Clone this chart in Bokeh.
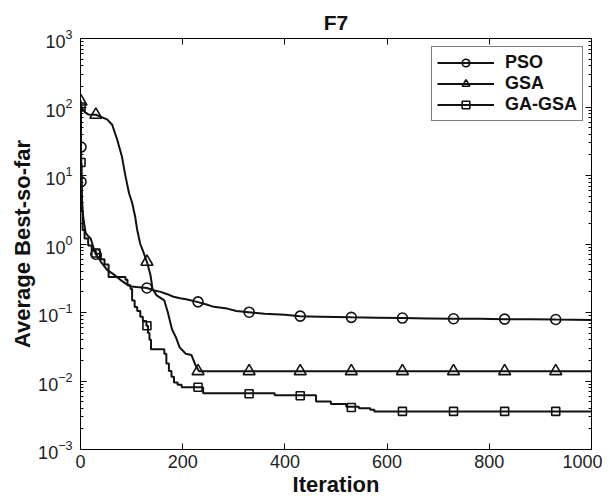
from bokeh.plotting import figure
from bokeh.models import (LogAxis, LinearAxis, Legend, LegendItem, FixedTicker,
                          LogTickFormatter)
from bokeh.embed import file_html
from bokeh.resources import INLINE

# ---------------- data ----------------
series_names = ["PSO", "GSA", "GA-GSA"]
title_text = "F7"

pso_x = [0, 1, 2, 3, 5, 8, 10, 15, 20, 26, 30, 40, 52, 65, 78, 90, 98, 110, 130, 145,
         157, 170, 182, 195, 209, 228, 245, 261, 287, 305, 329, 360, 400, 429, 470,
         500, 530, 580, 630, 680, 730, 780, 830, 880, 930, 1000]
pso_y = [90, 26, 8.1, 4.4, 2.6, 1.8, 1.45, 1.3, 1.2, 0.85, 0.71, 0.55, 0.42, 0.36,
         0.30, 0.26, 0.24, 0.235, 0.228, 0.21, 0.20, 0.185, 0.17, 0.162, 0.155, 0.143,
         0.132, 0.121, 0.114, 0.105, 0.101, 0.096, 0.093, 0.0885, 0.087, 0.086, 0.085,
         0.084, 0.083, 0.082, 0.081, 0.081, 0.080, 0.080, 0.079, 0.078]

gsa_x = [0, 2, 8, 15, 30, 52, 62, 72, 81, 88, 95, 101, 107, 111, 117, 122, 130, 137,
         141, 149, 164, 171, 179, 187, 194, 206, 217, 225, 232, 1000]
gsa_y = [125, 100, 85, 78, 77, 66, 55, 33, 19, 9.8, 5.5, 4.0, 2.5, 1.6, 1.0, 0.8,
         0.55, 0.35, 0.22, 0.178, 0.15, 0.10, 0.057, 0.043, 0.031, 0.025, 0.024,
         0.017, 0.0139, 0.0139]

gagsa_x = [0, 1, 2, 4, 8, 15, 22, 30, 40, 47, 55, 88, 92, 98, 101, 106, 111, 117, 122,
           129, 132, 135, 138, 164, 168, 173, 178, 183, 190, 198, 240, 380, 461, 490,
           520, 545, 567, 575, 1000]
gagsa_y = [100, 15, 3, 1.6, 1.2, 0.95, 0.8, 0.72, 0.6, 0.5, 0.33, 0.3, 0.25, 0.22,
           0.15, 0.12, 0.105, 0.087, 0.075, 0.064, 0.05, 0.04, 0.029, 0.025, 0.018,
           0.014, 0.0115, 0.0095, 0.0088, 0.0081, 0.0066, 0.0062, 0.005, 0.0046,
           0.0042, 0.004, 0.0038, 0.0036, 0.0036]

marker_x = [30, 130, 230, 330, 430, 530, 630, 730, 830, 930]
pso_mx = [1, 1] + marker_x
pso_my = [26, 8.1, 0.71, 0.228, 0.143, 0.101, 0.0885, 0.085, 0.083, 0.081, 0.080, 0.079]
gsa_mx = [1] + marker_x
gsa_my = [120, 77, 0.55, 0.0139, 0.0139, 0.0139, 0.0139, 0.0139, 0.0139, 0.0139, 0.0139]
gagsa_mx = [1, 1] + marker_x
gagsa_my = [100, 15.5, 0.74, 0.064, 0.0081, 0.0065, 0.0061, 0.0041, 0.0036, 0.0036,
            0.0036, 0.0036]

x_ticks = [0, 200, 400, 600, 800, 1000]
y_ticks = [1e-3, 1e-2, 1e-1, 1e0, 1e1, 1e2, 1e3]
y_minor = [m * t for t in y_ticks[:-1] for m in range(2, 10)]

# ---------------- figure ----------------
FONT = "Liberation Sans"
p = figure(width=602, height=499, y_axis_type="log", x_range=(0, 1000),
           y_range=(1e-3, 1e3), output_backend="svg", toolbar_location=None,
           min_border_left=80, min_border_right=11, min_border_top=38,
           min_border_bottom=50)
p.background_fill_color = "white"
p.border_fill_color = "white"
p.outline_line_color = "black"
p.outline_line_width = 1
p.grid.visible = False

p.title.text = title_text
p.title.align = "center"
p.title.text_font = FONT
p.title.text_font_style = "bold"
p.title.text_font_size = "21px"
p.title.text_color = "#111111"
p.title.standoff = 10

def style_axis(ax, labels=True):
    ax.axis_line_color = "black"
    ax.axis_line_width = 1
    ax.major_tick_in = 6
    ax.major_tick_out = 0
    ax.minor_tick_in = 3
    ax.minor_tick_out = 0
    ax.major_tick_line_color = "black"
    ax.minor_tick_line_color = "black"
    ax.major_label_text_font = FONT
    ax.major_label_text_color = "#222222"
    ax.axis_label_text_font = FONT
    ax.axis_label_text_font_style = "bold"
    ax.axis_label_text_font_size = "22px"
    ax.axis_label_text_color = "#111111"
    if labels:
        ax.major_label_text_font_size = "18px"
    else:
        ax.major_label_text_font_size = "1px"
        ax.major_label_text_alpha = 0
        ax.major_label_standoff = 0
        ax.axis_label_standoff = 0

xax = p.xaxis[0]
xax.ticker = FixedTicker(ticks=x_ticks)
style_axis(xax)
xax.minor_tick_line_color = None
xax.axis_label = "Iteration"
xax.major_label_standoff = 5
xax.axis_label_standoff = 1

yax = p.yaxis[0]
yax.ticker = FixedTicker(ticks=y_ticks, minor_ticks=y_minor)
yax.formatter = LogTickFormatter()
style_axis(yax)
yax.axis_label = "Average Best-so-far"
yax.major_label_standoff = 8
yax.axis_label_standoff = 0

top = LinearAxis(ticker=FixedTicker(ticks=x_ticks))
style_axis(top, labels=False)
top.minor_tick_line_color = None
p.add_layout(top, "above")

right = LogAxis(ticker=FixedTicker(ticks=y_ticks, minor_ticks=y_minor))
style_axis(right, labels=False)
p.add_layout(right, "right")

# ---------------- series ----------------
LW = 2
MC = "#111111"
l1 = p.line(pso_x, pso_y, line_color=MC, line_width=LW)
s1 = p.scatter(pso_mx, pso_my, marker="circle", size=10, fill_color=None,
               line_color=MC, line_width=1.6)
l2 = p.line(gsa_x, gsa_y, line_color=MC, line_width=LW)
s2 = p.scatter(gsa_mx, gsa_my, marker="triangle", size=12, fill_color=None,
               line_color=MC, line_width=1.6)
l3 = p.step(gagsa_x, gagsa_y, mode="after", line_color=MC, line_width=LW)
s3 = p.scatter(gagsa_mx, gagsa_my, marker="square", size=8, fill_color=None,
               line_color=MC, line_width=1.6)

legend = Legend(items=[
    LegendItem(label=series_names[0], renderers=[l1, s1]),
    LegendItem(label=series_names[1], renderers=[l2, s2]),
    LegendItem(label=series_names[2], renderers=[l3, s3]),
], location="top_right")
legend.border_line_color = "black"
legend.border_line_width = 1
legend.background_fill_color = "white"
legend.background_fill_alpha = 1
legend.label_text_font = FONT
legend.label_text_font_style = "bold"
legend.label_text_font_size = "18px"
legend.label_text_color = "#111111"
legend.glyph_width = 57
legend.glyph_height = 19
legend.label_height = 19
legend.label_standoff = 11
legend.padding = 5
legend.spacing = 0
legend.margin = 8
p.add_layout(legend)

open("out.html", "w").write(file_html(p, INLINE))
